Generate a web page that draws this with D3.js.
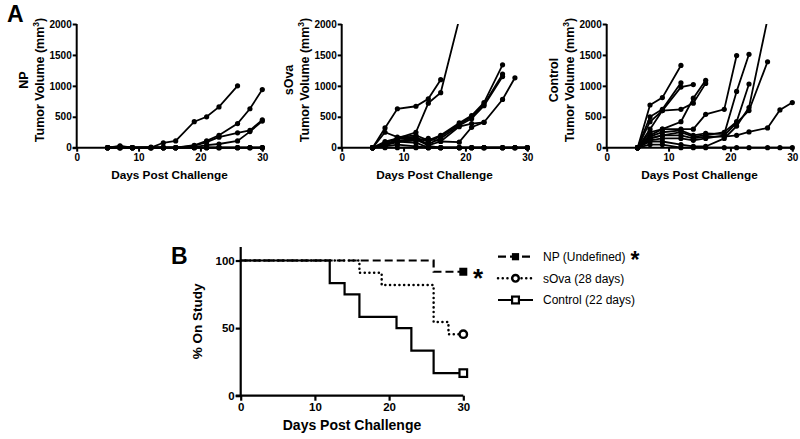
<!DOCTYPE html>
<html><head><meta charset="utf-8">
<script src="https://cdn.jsdelivr.net/npm/d3@7"></script>
<style>
html,body{margin:0;padding:0;background:#fff;}
svg{display:block;font-family:"Liberation Sans",Arial,sans-serif;}
</style></head>
<body><svg id="c" width="800" height="439"></svg>
<script>
// ---------- DATA ----------
const days = [5, 7, 9, 12, 14, 16, 19, 21, 23, 26, 28, 30];
const volTicks = [0, 500, 1000, 1500, 2000];
const dayTicks = [0, 10, 20, 30];

const npMice = [
  [0, 30, 0, 0, 80, 110, 420, 500, 660, 1000],
  [0, 0, 0, 0, 0, 0, 40, 110, 200, 390, 630, 940],
  [0, 0, 0, 10, 0, 0, 30, 90, 170, 240, 280, 450],
  [0, 0, 0, 0, 0, 0, 10, 40, 60, 110, 260, 430],
  [0, 20, 0, 0, 0, 0, 0, 0, 0, 0, 0, 0],
  [0, 0, 0, 0, 0, 0, 0, 0, 0, 0, 0, 0],
  [0, 0, 0, 0, 0, 0, 0, 0, 0, 0, 0, 0]
];
const sovaMice = [
  [0, 320, 630, 670, 790, 1100],
  [0, 80, 150, 250, 720, 890, 2080],
  [0, 250, 170, 200, 120, 200, 400, 520, 730, 1340],
  [0, 100, 150, 160, 100, 180, 380, 500, 700, 1190],
  [0, 60, 120, 140, 60, 150, 360, 470, 680, 1150],
  [0, 50, 100, 120, 150, 100, 90, 330, 410, 780, 1130],
  [0, 40, 90, 130, 40, 100, 340, 390, 410],
  [0, 30, 150, 180, 30, 0, 0, 0, 0, 0, 0, 0],
  [0, 60, 100, 80, 0, 0, 0, 0, 0, 0, 0, 0],
  [0, 20, 50, 20, 0, 0, 0, 0, 0, 0, 0, 0],
  [0, 0, 0, 0, 0, 0, 0, 0, 0, 0, 0, 0]
];
const controlMice = [
  [0, 690, 810, 1330],
  [0, 500, 620, 1050],
  [0, 420, 600, 980, 1020],
  [0, 300, 600, 620, 720, 1040],
  [0, 200, 300, 420, 800, 1090],
  [0, 250, 300, 300, 300, 540, 620, 1490],
  [0, 180, 250, 280, 200, 230, 220, 910, 1510],
  [0, 150, 200, 250, 180, 200, 250, 420, 1030],
  [0, 120, 150, 150, 120, 150, 200, 400, 600, 1390],
  [0, 100, 100, 50, 20, 20, 150, 350, 650, 2080],
  [0, 150, 200, 200, 150, 180, 180, 200, 255, 320, 610, 730],
  [0, 50, 50, 0, 0, 0, 0, 0, 0, 0, 0, 0]
];
const panels = [
  {name: "NP", mice: npMice},
  {name: "sOva", mice: sovaMice},
  {name: "Control", mice: controlMice}
];

// survival (step) data
const survNPDays = [0, 26, 30];
const survNPPct = [100, 91.7, 91.7];
const survSovaDays = [0, 16, 19, 26, 28, 30];
const survSovaPct = [100, 90.9, 81.8, 54.5, 45.5, 45.5];
const survCtrlDays = [0, 12, 14, 16, 21, 23, 26, 30];
const survCtrlPct = [100, 83.3, 75, 58.3, 50, 33.3, 16.7, 16.7];
const pctTicks = [0, 50, 100];
const legendLabels = ["NP (Undefined)", "sOva (28 days)", "Control (22 days)"];

// ---------- DRAW ----------
const svg = d3.select("#c");
const bold = "bold";

svg.append("text").attr("x", 7).attr("y", 22).attr("font-size", 23).attr("font-weight", bold).text("A");
svg.append("text").attr("x", 171).attr("y", 264).attr("font-size", 23).attr("font-weight", bold).text("B");

const panelLeft = [76.7, 341.7, 606.7];
const pw = 185.6, pTop = 24, pBottom = 147.7;

panels.forEach((p, i) => {
  const x0 = panelLeft[i];
  const x = d3.scaleLinear().domain([0, 30]).range([x0, x0 + pw]);
  const y = d3.scaleLinear().domain([0, 2000]).range([pBottom, pTop]);
  const g = svg.append("g");

  const clipId = "clip" + i;
  svg.append("clipPath").attr("id", clipId).append("rect")
    .attr("x", x0 - 5).attr("y", pTop).attr("width", pw + 12).attr("height", pBottom - pTop + 6);

  // axes
  const ya = d3.axisLeft(y).tickValues(volTicks).tickSize(4).tickPadding(1).tickFormat(d3.format("d"));
  const xa = d3.axisBottom(x).tickValues(dayTicks).tickSize(4).tickPadding(2);
  const gy = g.append("g").attr("transform", `translate(${x0},0)`).call(ya);
  const gx = g.append("g").attr("transform", `translate(0,${pBottom})`).call(xa);
  [gx, gy].forEach(a => {
    a.select(".domain").attr("stroke", "#000").attr("stroke-width", 2);
    a.selectAll(".tick line").attr("stroke", "#000").attr("stroke-width", 2);
    a.selectAll(".tick text").attr("fill", "#000").attr("font-size", 10).attr("font-weight", bold)
      .attr("font-family", "Liberation Sans, Arial, sans-serif");
  });
  gy.select(".domain").attr("d", `M0,${pBottom}V${pTop}`);
  gx.select(".domain").attr("d", `M${x0 - 4},0H${x0 + pw}`);

  // lines
  const line = d3.line().x((d) => x(d[0])).y((d) => y(d[1]));
  const dg = g.append("g").attr("clip-path", `url(#${clipId})`);
  p.mice.forEach(m => {
    const pts = m.map((v, k) => [days[k], v]);
    dg.append("path").attr("d", line(pts)).attr("fill", "none").attr("stroke", "#000").attr("stroke-width", 1.8);
    dg.selectAll(null).data(pts).enter().append("circle")
      .attr("cx", d => x(d[0])).attr("cy", d => y(d[1])).attr("r", 2.6).attr("fill", "#000");
  });

  // labels
  const cy = 80;
  g.append("text").attr("transform", `translate(${x0 - 49},${cy}) rotate(-90)`)
    .attr("text-anchor", "middle").attr("font-size", 12.5).attr("font-weight", bold).text(p.name);
  const t = g.append("text").attr("transform", `translate(${x0 - 33},${cy}) rotate(-90)`)
    .attr("text-anchor", "middle").attr("font-size", 12.5).attr("font-weight", bold);
  t.append("tspan").text("Tumor Volume (mm");
  t.append("tspan").attr("font-size", 8.5).attr("dy", -5).text("3");
  t.append("tspan").attr("dy", 5).text(")");
  g.append("text").attr("x", x0 + pw / 2).attr("y", 179).attr("text-anchor", "middle")
    .attr("font-size", 11.8).attr("font-weight", bold).text("Days Post Challenge");
});

// ---------- Survival ----------
const sx = d3.scaleLinear().domain([0, 30]).range([240.7, 463.3]);
const sy = d3.scaleLinear().domain([0, 110]).range([395.7, 247]);
const sg = svg.append("g");
const sya = d3.axisLeft(sy).tickValues(pctTicks).tickSize(5).tickPadding(1);
const sxa = d3.axisBottom(sx).tickValues(dayTicks).tickSize(5).tickPadding(2);
const sgy = sg.append("g").attr("transform", `translate(${sx(0)},0)`).call(sya);
const sgx = sg.append("g").attr("transform", `translate(0,${sy(0)})`).call(sxa);
[sgx, sgy].forEach(a => {
  a.select(".domain").attr("stroke", "#000").attr("stroke-width", 2.2);
  a.selectAll(".tick line").attr("stroke", "#000").attr("stroke-width", 2.2);
  a.selectAll(".tick text").attr("fill", "#000").attr("font-size", 11.5).attr("font-weight", bold)
    .attr("font-family", "Liberation Sans, Arial, sans-serif");
});
sgy.select(".domain").attr("d", `M0,${sy(0)}V${sy(110)}`);
sgx.select(".domain").attr("d", `M${sx(0) - 5},0H${sx(30)}`);

sg.append("text").attr("x", (sx(0) + sx(30)) / 2).attr("y", 430).attr("text-anchor", "middle")
  .attr("font-size", 14).attr("font-weight", bold).text("Days Post Challenge");
sg.append("text").attr("transform", `translate(202,${sy(55)}) rotate(-90)`).attr("text-anchor", "middle")
  .attr("font-size", 13.5).attr("font-weight", bold).text("% On Study");

const sline = d3.line().x(d => sx(d[0])).y(d => sy(d[1])).curve(d3.curveStepAfter);
const series = [
  {days: survCtrlDays, pct: survCtrlPct, dash: null, marker: "osq"},
  {days: survSovaDays, pct: survSovaPct, dash: "0.1,4.6", marker: "ocirc"},
  {days: survNPDays, pct: survNPPct, dash: "8,4", marker: "fsq"}
];
function drawMarker(g, type, cx, cy, s) {
  s = s || 1;
  if (type === "fsq") g.append("rect").attr("x", cx - 4 * s).attr("y", cy - 4 * s).attr("width", 8 * s).attr("height", 8 * s).attr("fill", "#000");
  if (type === "osq") g.append("rect").attr("x", cx - 3.8 * s).attr("y", cy - 3.8 * s).attr("width", 7.6 * s).attr("height", 7.6 * s)
    .attr("fill", "#fff").attr("stroke", "#000").attr("stroke-width", 2.2);
  if (type === "ocirc") g.append("circle").attr("cx", cx).attr("cy", cy).attr("r", 3.7 * s)
    .attr("fill", "#fff").attr("stroke", "#000").attr("stroke-width", 2.4);
}
series.forEach(s => {
  const pts = s.days.map((d, k) => [d, s.pct[k]]);
  const pth = sg.append("path").attr("d", sline(pts)).attr("fill", "none").attr("stroke", "#000")
    .attr("stroke-width", 2.2);
  if (s.dash) pth.attr("stroke-dasharray", s.dash);
  if (s.marker === "ocirc") pth.attr("stroke-linecap", "round").attr("stroke-width", 2.5);
});
series.forEach(s => {
  const n = s.days.length - 1;
  drawMarker(sg, s.marker, sx(s.days[n]), sy(s.pct[n]));
});
sg.append("text").attr("x", 478).attr("y", 287).attr("text-anchor", "middle")
  .attr("font-size", 26).attr("font-weight", bold).text("*");

// legend
const leg = svg.append("g");
const legRows = [
  {marker: "fsq", dash: "8,4", y: 256.7},
  {marker: "ocirc", dash: "0.1,4.6", y: 278.3, round: true},
  {marker: "osq", dash: null, y: 300}
];
legRows.forEach((r, k) => {
  const l = leg.append("line").attr("x1", 498).attr("x2", 533).attr("y1", r.y).attr("y2", r.y)
    .attr("stroke", "#000").attr("stroke-width", 2.2);
  if (r.dash) l.attr("stroke-dasharray", r.dash);
  if (r.round) l.attr("stroke-linecap", "round").attr("stroke-width", 2.5);
  drawMarker(leg, r.marker, 515.5, r.y, 0.9);
  leg.append("text").attr("x", 543).attr("y", r.y + 4.3).attr("font-size", 12).text(legendLabels[k]);
});
leg.append("text").attr("x", 635).attr("y", 268).attr("text-anchor", "middle")
  .attr("font-size", 23).attr("font-weight", bold).text("*");
</script></body></html>
